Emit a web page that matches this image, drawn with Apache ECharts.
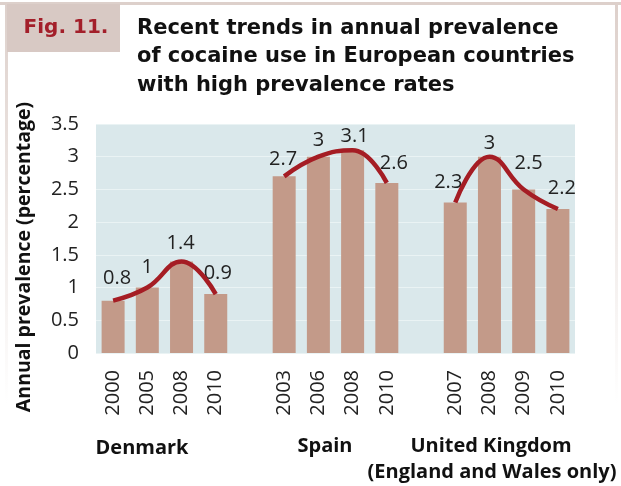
<!DOCTYPE html>
<html>
<head>
<meta charset="utf-8">
<script src="https://cdn.jsdelivr.net/npm/echarts@6/dist/echarts.min.js"></script>
<style>
html,body{margin:0;padding:0;background:#fff;}
#c{width:621px;height:486px;}
</style>
</head>
<body>
<div id="c"></div>
<script>
const years = ['2000','2005','2008','2010','','2003','2006','2008','2010','','2007','2008','2009','2010'];
const denmark = [0.8, 1, 1.4, 0.9];
const spain = [2.7, 3, 3.1, 2.6];
const uk = [2.3, 3, 2.5, 2.2];
const groupNames = ['Denmark', 'Spain', 'United Kingdom', '(England and Wales only)'];
const titleLines = ['Recent trends in annual prevalence', 'of cocaine use in European countries', 'with high prevalence rates'];
const yTicks = { min: 0, max: 3.5, interval: 0.5 };
// small label nudges [dx, dy] (styling only), one per bar
const labelNudge = [[4,-3],[0,-1],[-1,1],[2,-2],[-1,2],[0,3],[2,5],[7,-1],[-7,-1],[0,6],[5,-7],[4,-2]];

const values = [...denmark, null, ...spain, null, ...uk];
let k = 0;
const barData = values.map(v => {
  if (v === null) return '-';
  const [dx, dy] = labelNudge[k++];
  return { value: v, label: { offset: [dx, dy] } };
});
const starts = [0, 5, 10];
function lineData(vals, start) {
  const arr = new Array(years.length).fill(null);
  vals.forEach((v, i) => { arr[start + i] = v; });
  return arr;
}

const chart = echarts.init(document.getElementById('c'), null, { renderer: 'canvas' });
const lineStyle = { color: '#a51d24', width: 4.5 };
const mkLine = (vals, start) => ({
  type: 'line', data: lineData(vals, start), smooth: 0.45, symbol: 'none',
  lineStyle, z: 5, connectNulls: false, silent: true
});
const fade = () => new echarts.graphic.LinearGradient(0, 0, 0, 1, [{ offset: 0, color: '#ddd0cb' }, { offset: 1, color: 'rgba(221,208,203,0)' }]);
const groupFont = 'bold 20px "Open Sans", sans-serif';

chart.setOption({
  animation: false,
  backgroundColor: '#fff',
  textStyle: { fontFamily: 'Open Sans' },
  grid: { left: 96, right: 46, top: 124, bottom: 133, show: true, backgroundColor: '#dae8eb', borderWidth: 0 },
  xAxis: {
    type: 'category', data: years,
    axisLine: { show: false }, axisTick: { show: false },
    axisLabel: { interval: 0, rotate: 90, margin: 17, fontSize: 20, color: '#222', fontFamily: 'Open Sans' }
  },
  yAxis: {
    type: 'value', min: yTicks.min, max: yTicks.max, interval: yTicks.interval,
    axisLine: { show: false }, axisTick: { show: false },
    splitLine: { lineStyle: { color: '#eaf3f4', width: 1 } },
    axisLabel: { margin: 17, fontSize: 20, color: '#222', fontFamily: 'Open Sans' }
  },
  series: [
    {
      type: 'bar', data: barData, barWidth: 23, itemStyle: { color: '#c39a89' },
      label: { show: true, position: 'top', distance: 9, fontSize: 20, color: '#222', fontFamily: 'Open Sans' },
      z: 2
    },
    mkLine(denmark, starts[0]),
    mkLine(spain, starts[1]),
    mkLine(uk, starts[2])
  ],
  graphic: [
    { type: 'rect', shape: { x: 0, y: 2, width: 621, height: 3 }, style: { fill: '#ddd0cb' } },
    { type: 'rect', shape: { x: 5, y: 4, width: 3, height: 400 }, style: { fill: fade() } },
    { type: 'rect', shape: { x: 615, y: 4, width: 3, height: 400 }, style: { fill: fade() } },
    { type: 'rect', shape: { x: 7, y: 4, width: 113, height: 48 }, style: { fill: '#d8c9c4' } },
    { type: 'text', x: 66, y: 28, style: { text: 'Fig. 11.', fill: '#a31f2a', align: 'center', verticalAlign: 'middle', font: 'bold 20px "DejaVu Sans", sans-serif' } },
    { type: 'text', left: 137, top: 14, style: { text: titleLines.join('\n'), fill: '#111', lineHeight: 28.5, font: 'bold 21px "DejaVu Sans", sans-serif' } },
    { type: 'text', x: 24, y: 257, rotation: Math.PI / 2,
      style: { text: 'Annual prevalence (percentage)', fill: '#111', align: 'center', verticalAlign: 'middle', font: 'bold 19.5px "Open Sans", sans-serif' } },
    { type: 'text', x: 142, y: 448, style: { text: groupNames[0], fill: '#111', align: 'center', verticalAlign: 'middle', font: groupFont } },
    { type: 'text', x: 325, y: 446, style: { text: groupNames[1], fill: '#111', align: 'center', verticalAlign: 'middle', font: groupFont } },
    { type: 'text', x: 491, y: 446, style: { text: groupNames[2], fill: '#111', align: 'center', verticalAlign: 'middle', font: groupFont } },
    { type: 'text', x: 492, y: 472, style: { text: groupNames[3], fill: '#111', align: 'center', verticalAlign: 'middle', font: groupFont } }
  ]
});
</script>
</body>
</html>
